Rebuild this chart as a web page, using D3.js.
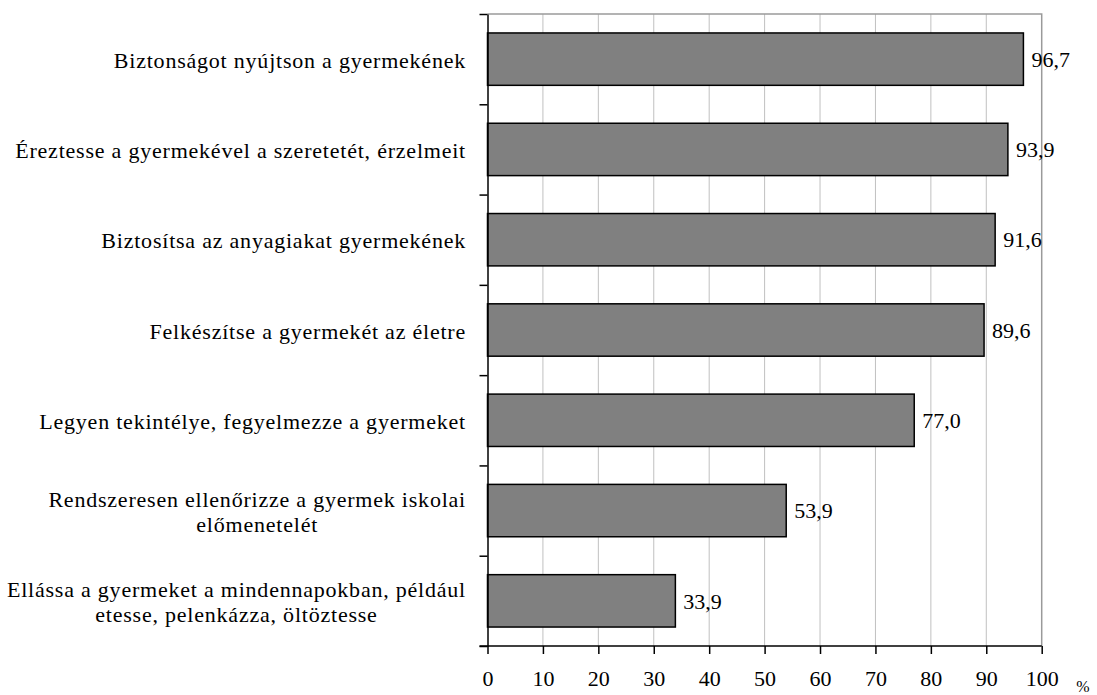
<!DOCTYPE html>
<html lang="hu">
    <head>
        <meta charset="utf-8">
        <title>Szülői szerepek</title>
        <script type="text/javascript" src="https://d3js.org/d3.v7.min.js"></script>
        <style type="text/css">
            body{
                margin: 0;
                background-color: white;
            }
            text{
                font-family: "Liberation Serif", "Times New Roman", serif;
                fill: black;
            }
        </style>
    </head>
    <body>
        <script type="text/javascript">

        //data - "\n" marks a line break in the label
        const categories = [
            "Biztonságot nyújtson a gyermekének",
            "Éreztesse a gyermekével a szeretetét, érzelmeit",
            "Biztosítsa az anyagiakat gyermekének",
            "Felkészítse a gyermekét az életre",
            "Legyen tekintélye, fegyelmezze a gyermeket",
            "Rendszeresen ellenőrizze a gyermek iskolai\nelőmenetelét",
            "Ellássa a gyermeket a mindennapokban, például\netesse, pelenkázza, öltöztesse"
        ];
        const values = [96.7, 93.9, 91.6, 89.6, 77.0, 53.9, 33.9];
        const xTicks = [0, 10, 20, 30, 40, 50, 60, 70, 80, 90, 100];
        const unitLabel = "%";

        //layout (window.top exists already, so plot* names)
        const width = 1097;
        const height = 695;
        const plotLeft = 487.5, plotRight = 1041.7, plotTop = 14, plotBottom = 646;
        const fontSize = 22;
        const serif = "'Liberation Serif', 'Times New Roman', serif";

        //hungarian number format, decimal comma
        const huFormat = d3.formatLocale({decimal: ",", thousands: " ", grouping: [3], currency: ["", " Ft"]}).format(".1f");

        //SCALES
        const xScale = d3.scaleLinear()
                        .domain([0, 100])
                        .range([plotLeft, plotRight]);

        const yScale = d3.scaleBand()
                        .domain(categories)
                        .range([plotTop, plotBottom])
                        .paddingInner(0.42)
                        .paddingOuter(0.21);

        //edges of the category bands, for the tick marks
        const yEdge = d3.scaleLinear()
                        .domain([0, categories.length])
                        .range([plotTop, plotBottom]);

        const svg = d3.select("body")
                    .append("svg")
                    .attr("width", width)
                    .attr("height", height);

        //GRID LINES
        svg.append("g")
            .selectAll("line")
            .data(xTicks.filter(t => t > 0 && t < 100))
            .enter()
            .append("line")
            .attr("x1", d => xScale(d))
            .attr("x2", d => xScale(d))
            .attr("y1", plotTop)
            .attr("y2", plotBottom)
            .attr("stroke", "#c0c0c0")
            .attr("stroke-width", 1);

        //plot frame, top and right
        svg.append("path")
            .attr("d", `M${plotLeft},${plotTop}H${plotRight}V${plotBottom}`)
            .attr("fill", "none")
            .attr("stroke", "#9a9a9a")
            .attr("stroke-width", 1.5);

        //BARS
        svg.append("g")
            .selectAll("rect")
            .data(values)
            .enter()
            .append("rect")
            .attr("x", xScale(0))
            .attr("y", (d, i) => yScale(categories[i]))
            .attr("width", d => xScale(d) - xScale(0))
            .attr("height", yScale.bandwidth())
            .attr("fill", "#808080")
            .attr("stroke", "black")
            .attr("stroke-width", 1.5);

        //VALUE LABELS
        svg.append("g")
            .selectAll("text")
            .data(values)
            .enter()
            .append("text")
            .attr("x", d => xScale(d) + 8)
            .attr("y", (d, i) => yScale(categories[i]) + yScale.bandwidth() / 2)
            .attr("dy", "0.35em")
            .style("font-family", serif)
            .style("font-size", fontSize + "px")
            .text(d => huFormat(d));

        //AXES
        const bottomAxis = d3.axisBottom(xScale)
                            .tickValues(xTicks)
                            .tickSize(8)
                            .tickPadding(16)
                            .tickSizeOuter(0);

        const gx = svg.append("g")
            .attr("transform", "translate(0," + plotBottom + ")")
            .call(bottomAxis);
        gx.select(".domain").remove();
        gx.selectAll(".tick line").attr("stroke", "black").attr("stroke-width", 1.5);
        gx.selectAll(".tick text")
            .style("font-family", serif)
            .style("font-size", fontSize + "px");
        gx.append("line")
            .attr("x1", plotLeft - 8)
            .attr("x2", plotRight)
            .attr("stroke", "black")
            .attr("stroke-width", 1.5);

        const leftAxis = d3.axisLeft(yEdge)
                            .ticks(categories.length)
                            .tickSize(8)
                            .tickFormat("")
                            .tickSizeOuter(0);

        const gy = svg.append("g")
            .attr("transform", "translate(" + plotLeft + ",0)")
            .call(leftAxis);
        gy.select(".domain").attr("stroke", "black").attr("stroke-width", 1.5);
        gy.selectAll(".tick line").attr("stroke", "black").attr("stroke-width", 1.5);

        //unit label
        svg.append("text")
            .attr("x", 1083)
            .attr("y", 692)
            .attr("text-anchor", "middle")
            .style("font-family", serif)
            .style("font-size", "16px")
            .text(unitLabel);

        //CATEGORY LABELS - lines centred on each other, block right aligned
        const labelRight = 466;
        const lineHeight = 25.5;
        categories.forEach(c => {
            const lines = c.split("\n");
            const cy = yScale(c) + yScale.bandwidth() / 2;
            const t = svg.append("text")
                .style("font-family", serif)
                .style("font-size", fontSize + "px")
                .style("letter-spacing", "0.78px")
                .attr("text-anchor", "middle");
            lines.forEach((ln, j) => {
                t.append("tspan")
                    .attr("y", cy + (j - (lines.length - 1) / 2) * lineHeight + 1)
                    .attr("dy", "0.35em")
                    .text(ln);
            });
            let maxW = 0;
            t.selectAll("tspan").each(function() {
                maxW = Math.max(maxW, this.getComputedTextLength());
            });
            t.selectAll("tspan").attr("x", labelRight - maxW / 2);
        });

        </script>
    </body>
</html>
